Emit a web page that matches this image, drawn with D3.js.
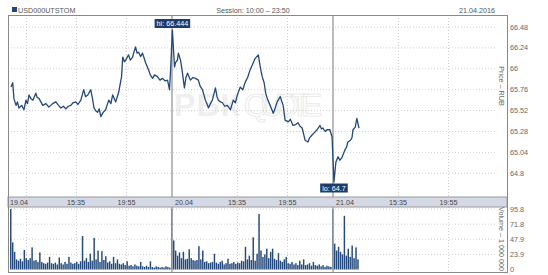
<!DOCTYPE html>
<html>
<head>
<meta charset="utf-8">
<script src="https://cdn.jsdelivr.net/npm/d3@7"></script>
<style>
    body { margin: 0; background: #fff; }
    svg text { font-family: "Liberation Sans", Arial, sans-serif; }
</style>
</head>
<body>
<div id="chart"></div>
<script>
const ticker = "USD000UTSTOM";
const sessionText = "Session: 10:00 \u2013 23:50";
const chartDate = "21.04.2016";
const days = ["19.04", "20.04", "21.04"];

// price points per day: [time, price]
const price19 = [["10:00",65.79],["10:09",65.84],["10:15",65.66],["10:26",65.58],["10:33",65.62],["10:41",65.55],
    ["10:55",65.58],["11:07",65.53],["11:17",65.64],["11:25",65.60],["11:33",65.70],["11:42",65.66],["11:53",65.64],
    ["12:08",65.72],["12:15",65.67],["12:24",65.66],["12:34",65.62],["12:44",65.58],["13:00",65.60],["13:15",65.56],
    ["13:35",65.60],["13:51",65.62],["14:05",65.58],["14:17",65.55],["14:30",65.57],["14:43",65.54],["14:55",65.57],
    ["15:08",65.58],["15:20",65.61],["15:34",65.62],["15:45",65.59],["16:00",65.64],["16:15",65.76],["16:24",65.68],
    ["16:36",65.70],["16:51",65.76],["17:00",65.66],["17:07",65.56],["17:15",65.52],["17:27",65.50],["17:35",65.54],
    ["17:43",65.45],["17:55",65.50],["18:08",65.53],["18:15",65.58],["18:24",65.64],["18:35",65.60],["18:44",65.70],
    ["19:00",65.62],["19:15",65.73],["19:30",65.91],["19:36",66.135],["19:45",66.08],["19:51",66.10],["20:06",66.16],
    ["20:15",66.10],["20:27",66.135],["20:35",66.20],["20:42",66.25],["20:50",66.18],["20:58",66.19],["21:08",66.14],
    ["21:18",66.18],["21:34",66.07],["21:49",65.99],["21:58",65.93],["22:10",65.89],["22:20",65.93],["22:35",65.91],
    ["22:48",65.87],["23:01",65.89],["23:15",65.86],["23:27",65.87],["23:37",65.76],["23:42",65.95]];
const price20 = [["10:02",66.444],["10:13",66.02],["10:18",66.07],["10:28",66.10],["10:33",66.18],["10:44",66.10],
    ["10:54",65.95],["11:04",65.78],["11:12",65.90],["11:20",65.95],["11:35",65.87],["11:48",65.90],["12:01",65.89],
    ["12:16",65.87],["12:25",65.80],["12:37",65.76],["12:52",65.64],["13:00",65.60],["13:08",65.55],["13:18",65.60],
    ["13:28",65.64],["13:44",65.78],["13:52",65.68],["13:59",65.64],["14:10",65.62],["14:20",65.61],["14:32",65.57],
    ["14:45",65.58],["15:01",65.53],["15:08",65.58],["15:16",65.64],["15:27",65.61],["15:37",65.70],["15:52",65.79],
    ["16:05",65.76],["16:18",65.85],["16:30",65.90],["16:43",65.99],["16:55",66.05],["17:09",66.12],["17:25",66.16],
    ["17:35",66.02],["17:45",65.91],["17:55",65.84],["18:03",65.72],["18:11",65.66],["18:26",65.58],["18:42",65.49],
    ["18:52",65.55],["19:02",65.62],["19:18",65.68],["19:33",65.58],["19:43",65.41],["19:59",65.39],["20:10",65.42],
    ["20:24",65.35],["20:38",65.36],["20:50",65.38],["21:00",65.34],["21:11",65.32],["21:26",65.18],["21:41",65.16],
    ["21:50",65.21],["22:02",65.24],["22:15",65.27],["22:28",65.30],["22:43",65.35],["22:50",65.31],["22:58",65.32],
    ["23:10",65.28],["23:19",65.30],["23:34",65.30],["23:45",65.22]];
const price21 = [["10:05",64.70],["10:15",64.93],["10:26",64.99],["10:35",64.95],["10:46",64.98],["11:02",65.07],
    ["11:10",65.10],["11:17",65.16],["11:30",65.18],["11:38",65.21],["11:43",65.30],["11:55",65.33],["12:03",65.43],
    ["12:14",65.32]];

// volume, one value per 10 minutes from 10:00, in millions
const vol19 = [95.8,43,28,16,14,17,13,31,18,15,18,35,14,15,12,27,12,10,9,11,20,10,9,11,8,19,10,8,12,9,20,11,9,10,12,9,13,
    53,14,18,12,25,14,50,16,30,12,29,15,21,11,13,9,20,10,16,9,8,10,7,13,6,7,5,8,6,5,12,5,4,6,4,13,4,3,5,4,3,4,3,5,4,3];
const vol20 = [95.8,46,30,22,27,18,28,16,17,32,18,15,14,15,37,16,30,12,13,10,11,12,25,11,9,12,14,8,10,17,9,10,12,9,11,10,
    14,13,36,16,22,15,51,14,25,88,30,20,24,33,18,28,33,17,15,26,14,12,16,20,10,9,12,8,10,7,14,8,16,7,8,10,6,12,7,6,8,5,7,4,6,5,4];
const vol21 = [95.8,41,30,36,28,24,85,22,33,20,38,18,35,16];

const priceTicks = [66.48, 66.24, 66, 65.76, 65.52, 65.28, 65.04, 64.8];
const volumeTicks = [95.8, 71.8, 47.9, 23.9, 0];
const timeTicks = [[0,"11:15",""],[0,"15:35","15:35"],[0,"19:55","19:55"],[1,"15:35","15:35"],[1,"19:55","19:55"],
    [2,"15:35","15:35"],[2,"19:55","19:55"]];

const dayMinutes = 830;
function minutes(day, hm) {
    const [h, m] = hm.split(":").map(Number);
    return day * dayMinutes + h * 60 + m - 600;
}

const width = 548, height = 275;
const plotLeft = 8, plotRight = 507, gridRight = 497;
const priceTop = 15, priceBottom = 197, bandBottom = 207, volBottom = 272;
const textColor = "#555", lineColor = "#23477a";

const prices = [price19, price20, price21].flatMap((list, day) =>
    list.map(([t, v]) => ({t: minutes(day, t), v: v})));
const volumes = [vol19, vol20, vol21].flatMap((list, day) =>
    list.map((v, i) => ({t: day * dayMinutes + i * 10, v: v})));

const x = d3.scaleLinear().domain([0, 3 * dayMinutes]).range([11, 494]);
const y = d3.scaleLinear().domain([64.8, 66.48]).range([173.3, 27]);
const yVol = d3.scaleLinear().domain([0, 95.8]).range([269.5, 209]);

const svg = d3.select("#chart").append("svg")
    .attr("width", width)
    .attr("height", height);

// header
svg.append("rect").attr("x", 12).attr("y", 7).attr("width", 5).attr("height", 5).attr("fill", lineColor);
svg.append("text").attr("x", 18).attr("y", 12.5).attr("font-size", 7.2).attr("fill", textColor).text(ticker);
svg.append("text").attr("x", 253).attr("y", 12.5).attr("font-size", 7.2).attr("fill", textColor)
    .attr("text-anchor", "middle").text(sessionText);
svg.append("text").attr("x", 495).attr("y", 12.5).attr("font-size", 7.2).attr("fill", textColor)
    .attr("text-anchor", "end").text(chartDate);

// watermark
const mark = svg.append("g").attr("fill", "none").attr("stroke", "#ebebeb").attr("stroke-width", 1);
mark.append("text").attr("x", 174).attr("y", 116).attr("font-size", 32).attr("font-weight", "bold")
    .attr("fill", "#efefef").attr("stroke", "none").attr("textLength", 66).text("\u0420\u0411\u041a");
mark.append("text").attr("x", 244).attr("y", 116).attr("font-size", 32).attr("textLength", 78).text("QUOTE");

// gridlines
const grid = svg.append("g").attr("stroke", "#cfcfcf").attr("stroke-dasharray", "1,2");
grid.selectAll(".hp").data(priceTicks).join("line")
    .attr("x1", plotLeft).attr("x2", gridRight)
    .attr("y1", d => y(d)).attr("y2", d => y(d));
grid.selectAll(".hv").data(volumeTicks.filter(d => d > 0)).join("line")
    .attr("x1", plotLeft).attr("x2", gridRight)
    .attr("y1", d => yVol(d)).attr("y2", d => yVol(d));
const vgrid = svg.append("g").attr("stroke", "#d6cbd6").attr("stroke-dasharray", "1,2");
timeTicks.forEach(([day, t]) => {
    const xx = Math.round(x(minutes(day, t))) + 0.5;
    vgrid.append("line").attr("x1", xx).attr("x2", xx).attr("y1", priceTop).attr("y2", priceBottom);
    vgrid.append("line").attr("x1", xx).attr("x2", xx).attr("y1", bandBottom).attr("y2", volBottom);
});

// volume bars
const step = x(10) - x(0);
svg.append("g").attr("fill", "#24497c")
    .selectAll("rect").data(volumes).join("rect")
    .attr("x", d => x(d.t) - step / 2)
    .attr("width", step * 0.75)
    .attr("y", d => yVol(d.v))
    .attr("height", d => yVol(0) - yVol(d.v));

// day separators
svg.append("g").attr("stroke", "#a5a5a5").attr("stroke-width", 1.5)
    .selectAll("line").data([1, 2]).join("line")
    .attr("x1", d => x(d * dayMinutes)).attr("x2", d => x(d * dayMinutes))
    .attr("y1", priceTop).attr("y2", volBottom);

// price line
svg.append("path").datum(prices)
    .attr("fill", "none")
    .attr("stroke", lineColor)
    .attr("stroke-width", 1.3)
    .attr("stroke-linejoin", "round")
    .attr("d", d3.line().x(d => x(d.t)).y(d => y(d.v)));

// time band
svg.append("rect").attr("x", plotLeft).attr("y", priceBottom).attr("width", plotRight - plotLeft)
    .attr("height", bandBottom - priceBottom).attr("fill", "#d5d9e6").attr("stroke", "#9a9a9a");
svg.append("g").selectAll("text").data(timeTicks.filter(d => d[2])).join("text")
    .attr("x", d => x(minutes(d[0], d[1])))
    .attr("y", 205)
    .attr("font-size", 7.2).attr("fill", "#444").attr("text-anchor", "middle")
    .text(d => d[2]);
svg.append("g").selectAll("text").data(days).join("text")
    .attr("x", (d, i) => x(i * dayMinutes) + (i ? 3 : -1))
    .attr("y", 205)
    .attr("font-size", 7.2).attr("fill", "#444")
    .text(d => d);

// frame
svg.append("rect").attr("x", plotLeft + 0.5).attr("y", priceTop + 0.5)
    .attr("width", plotRight - plotLeft).attr("height", volBottom - priceTop)
    .attr("fill", "none").attr("stroke", "#8a8a8a");

// right axes
const axisText = svg.append("g").attr("font-size", 7.2).attr("fill", "#666");
axisText.selectAll(".p").data(priceTicks).join("text")
    .attr("x", 510).attr("y", d => y(d) + 2.5).text(d => d);
axisText.selectAll(".v").data(volumeTicks).join("text")
    .attr("x", 510).attr("y", d => yVol(d) + 2.5).text(d => d);
axisText.append("text").attr("transform", "translate(499," + 86 + ") rotate(90)")
    .attr("text-anchor", "middle").text("Price \u2013 RUB");
axisText.append("text").attr("transform", "translate(499," + 239 + ") rotate(90)")
    .attr("text-anchor", "middle").text("Volume \u2013 1 000 000");

// hi / lo labels
const hi = prices[d3.maxIndex(prices, d => d.v)];
const lo = prices[d3.minIndex(prices, d => d.v)];
[[hi, "hi: ", 19], [lo, "lo: ", y(lo.v) + 1.5]].forEach(([p, prefix, top]) => {
    const label = prefix + p.v;
    const g = svg.append("g");
    const txt = g.append("text").attr("x", x(p.t)).attr("y", top + 7)
        .attr("font-size", 7.2).attr("fill", "#fff").attr("text-anchor", "middle").text(label);
    const w = txt.node().getComputedTextLength() + 4;
    g.insert("rect", "text").attr("x", x(p.t) - w / 2).attr("y", top)
        .attr("width", w).attr("height", 9).attr("fill", "#1f3d6b");
});
</script>
</body>
</html>
